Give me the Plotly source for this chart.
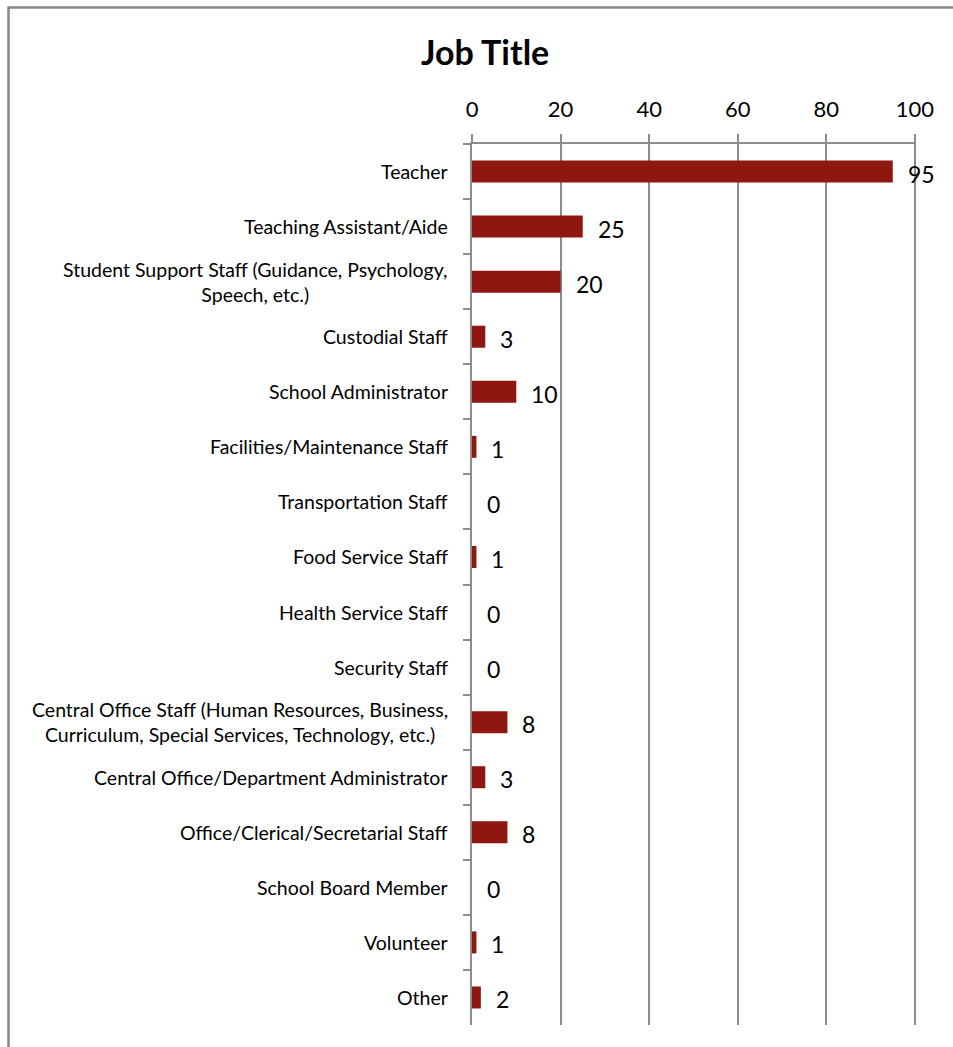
import plotly.graph_objects as go

# Survey responses by job title
categories = [
    "Teacher",
    "Teaching Assistant/Aide",
    "Student Support Staff (Guidance, Psychology,<br>Speech, etc.)",
    "Custodial Staff",
    "School Administrator",
    "Facilities/Maintenance Staff",
    "Transportation Staff",
    "Food Service Staff",
    "Health Service Staff",
    "Security Staff",
    "Central Office Staff (Human Resources, Business,<br>Curriculum, Special Services, Technology, etc.)",
    "Central Office/Department Administrator",
    "Office/Clerical/Secretarial Staff",
    "School Board Member",
    "Volunteer",
    "Other",
]
counts = [95, 25, 20, 3, 10, 1, 0, 1, 0, 0, 8, 3, 8, 0, 1, 2]
x_ticks = [0, 20, 40, 60, 80, 100]

FONT = "Lato, 'Open Sans', sans-serif"
BAR_COLOR = "#8E1710"
LINE_GRAY = "#8C8C8C"

W, H = 953, 1047
L, R, T, B = 472, 37, 144, 22
plot_w = W - L - R
plot_h = H - T - B
X_MAX = 100.25  # a hair past 100 so the last gridline stays visible


def px_to_xpaper(px):
    return (px - L) / plot_w


def py_to_ypaper(py):
    return (H - B - py) / plot_h


fig = go.Figure(
    go.Bar(
        x=counts,
        y=categories,
        orientation="h",
        marker=dict(color=BAR_COLOR, line=dict(width=0)),
        hoverinfo="x+y",
    )
)

annotations = []
# value labels just right of each bar
for cat, v in zip(categories, counts):
    annotations.append(dict(
        x=v, y=cat, xref="x", yref="y", text=str(v), showarrow=False,
        xanchor="left", yanchor="middle", xshift=13, yshift=-2,
        font=dict(family=FONT, size=23, color="#000000"),
    ))
# category labels, right aligned block with centered lines
for cat in categories:
    annotations.append(dict(
        x=px_to_xpaper(450), y=cat, xref="paper", yref="y", text=cat,
        showarrow=False, xanchor="right", yanchor="middle", align="center",
        font=dict(family=FONT, size=19.5, color="#000000"),
    ))
# chart title
annotations.append(dict(
    x=px_to_xpaper(485), y=py_to_ypaper(52), xref="paper", yref="paper",
    text="<b>Job Title</b>", showarrow=False, xanchor="center", yanchor="middle",
    font=dict(family=FONT, size=34, color="#000000"),
))

shapes = [
    # outer chart frame (left and top edges)
    dict(type="line", xref="paper", yref="paper",
         x0=px_to_xpaper(8.5), x1=px_to_xpaper(8.5),
         y0=py_to_ypaper(1060), y1=py_to_ypaper(7.5),
         line=dict(color="#878787", width=2.5)),
    dict(type="line", xref="paper", yref="paper",
         x0=px_to_xpaper(7.5), x1=px_to_xpaper(970),
         y0=py_to_ypaper(7.5), y1=py_to_ypaper(7.5),
         line=dict(color="#878787", width=2.5)),
]

fig.update_layout(
    width=W, height=H,
    margin=dict(l=L, r=R, t=T, b=B, autoexpand=False),
    paper_bgcolor="white", plot_bgcolor="white",
    showlegend=False,
    bargap=0.6,
    font=dict(family=FONT, color="#000000"),
    annotations=annotations,
    shapes=shapes,
)

fig.update_xaxes(
    side="top", range=[0, X_MAX], tickvals=x_ticks,
    showgrid=True, gridcolor=LINE_GRAY, gridwidth=2,
    showline=True, linecolor=LINE_GRAY, linewidth=2,
    ticks="outside", ticklen=8, tickcolor=LINE_GRAY, tickwidth=2,
    tickfont=dict(family=FONT, size=22, color="#000000"),
    ticklabelstandoff=8,
    zeroline=False, fixedrange=True,
)
fig.update_yaxes(
    autorange="reversed", type="category",
    showticklabels=False,
    showline=True, linecolor=LINE_GRAY, linewidth=2,
    ticks="outside", tickson="boundaries", ticklen=7,
    tickcolor=LINE_GRAY, tickwidth=2,
    showgrid=False, zeroline=False, fixedrange=True,
)

fig.write_html("out.html")
